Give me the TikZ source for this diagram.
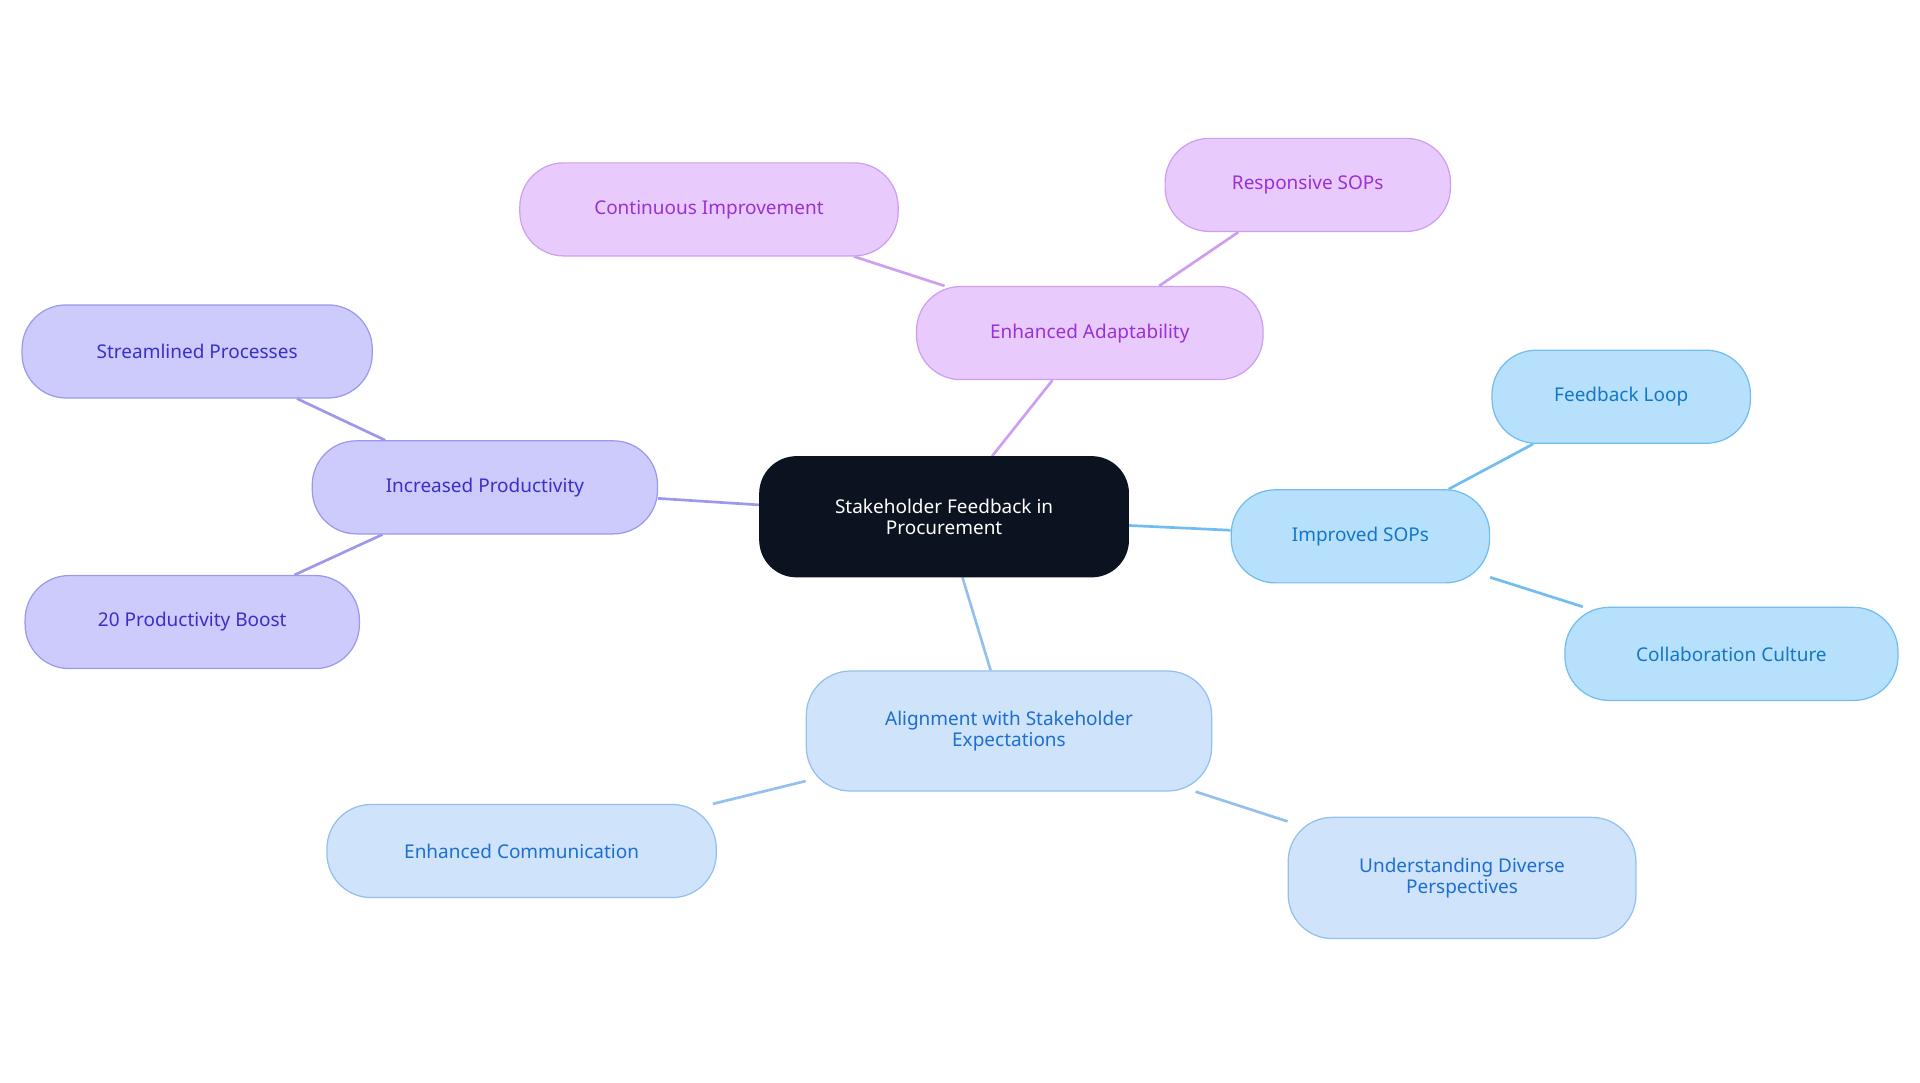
\documentclass[tikz,border=0pt]{standalone}
\usepackage{fontspec}
\setmainfont{Noto Sans}
\usetikzlibrary{backgrounds}
\definecolor{cdark}{HTML}{0B1220}
\definecolor{pfill}{HTML}{E8CBFC}\definecolor{pline}{HTML}{CE9EF0}\definecolor{ptext}{HTML}{9A30D6}
\definecolor{vfill}{HTML}{CCCBFC}\definecolor{vline}{HTML}{9C98EC}\definecolor{vtext}{HTML}{3B2FC9}
\definecolor{bfill}{HTML}{B6E0FC}\definecolor{bline}{HTML}{72BDF0}\definecolor{btext}{HTML}{1477C9}
\definecolor{lfill}{HTML}{CFE3FA}\definecolor{lline}{HTML}{94C0EE}\definecolor{ltext}{HTML}{1D6FD0}
\tikzset{
 box/.style={rounded corners=36pt,draw,line width=1pt,align=center,inner sep=0pt,font=\fontsize{15.5}{17}\selectfont},
 pbox/.style={box,fill=pfill,draw=pline,text=ptext},
 vbox/.style={box,fill=vfill,draw=vline,text=vtext},
 bbox/.style={box,fill=bfill,draw=bline,text=btext},
 lbox/.style={box,fill=lfill,draw=lline,text=ltext},
 edge/.style={line width=2.2pt}
}
\begin{document}
\begin{tikzpicture}[x=1pt,y=-1pt]
\useasboundingbox (0,0) rectangle (1568,884);
\node[box,fill=cdark,draw=cdark,text=white,minimum width=301pt,minimum height=98pt,rounded corners=30pt] (c) at (771,422) {Stakeholder Feedback in\\Procurement};
\node[pbox,minimum width=283pt,minimum height=76pt] (ea) at (890,272) {Enhanced Adaptability};
\node[pbox,minimum width=309pt,minimum height=76pt] (ci) at (579,171) {Continuous Improvement};
\node[pbox,minimum width=233pt,minimum height=76pt] (rs) at (1068,151) {Responsive SOPs};
\node[vbox,minimum width=282pt,minimum height=76pt] (ip) at (396,398) {Increased Productivity};
\node[vbox,minimum width=286pt,minimum height=76pt] (sp) at (161,287) {Streamlined Processes};
\node[vbox,minimum width=273pt,minimum height=76pt] (pb) at (157,508) {20 Productivity Boost};
\node[bbox,minimum width=211pt,minimum height=76pt] (is) at (1111,438) {Improved SOPs};
\node[bbox,minimum width=211pt,minimum height=76pt] (fl) at (1324,324) {Feedback Loop};
\node[bbox,minimum width=272pt,minimum height=76pt] (cc) at (1414,534) {Collaboration Culture};
\node[lbox,minimum width=331pt,minimum height=98pt] (al) at (824,597) {Alignment with Stakeholder\\Expectations};
\node[lbox,minimum width=318pt,minimum height=76pt] (ec) at (426,695) {Enhanced Communication};
\node[lbox,minimum width=284pt,minimum height=99pt] (ud) at (1194,717) {Understanding Diverse\\Perspectives};
\begin{scope}[on background layer]
\draw[edge,pline] (c)--(ea); \draw[edge,pline] (ea)--(ci); \draw[edge,pline] (ea)--(rs);
\draw[edge,vline] (c)--(ip); \draw[edge,vline] (ip)--(sp); \draw[edge,vline] (ip)--(pb);
\draw[edge,bline] (c)--(is); \draw[edge,bline] (is)--(fl); \draw[edge,bline] (is)--(cc);
\draw[edge,lline] (c)--(al); \draw[edge,lline] (al)--(ec); \draw[edge,lline] (al)--(ud);
\end{scope}
\end{tikzpicture}
\end{document}
